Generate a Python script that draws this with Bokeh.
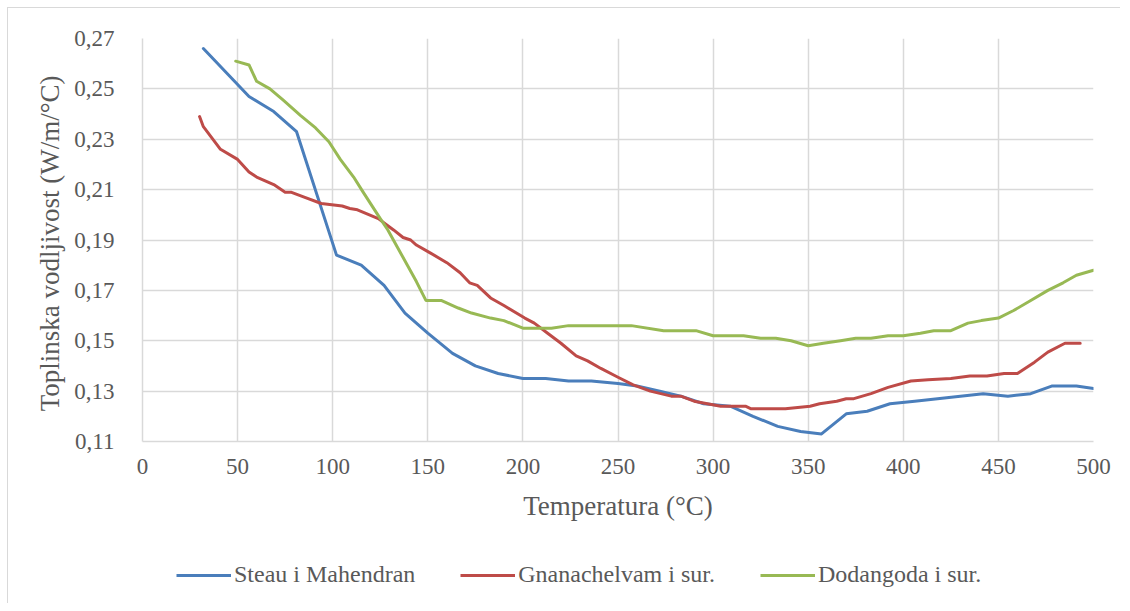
from bokeh.plotting import figure
from bokeh.layouts import column
from bokeh.models import FixedTicker, CustomJSTickFormatter, Legend, LegendItem, Range1d, InlineStyleSheet
from bokeh.embed import file_html
from bokeh.resources import INLINE

blue_x = [32, 56, 69, 81, 102, 115, 127, 138, 150, 163, 175, 187, 200, 212, 224, 236, 250, 260, 272, 283, 295, 309, 321, 334, 346, 357, 370, 381, 393, 406, 418, 430, 442, 455, 467, 478, 491, 500]
blue_y = [0.266, 0.247, 0.241, 0.233, 0.184, 0.180, 0.172, 0.161, 0.153, 0.145, 0.140, 0.137, 0.135, 0.135, 0.134, 0.134, 0.133, 0.132, 0.130, 0.128, 0.125, 0.124, 0.120, 0.116, 0.114, 0.113, 0.121, 0.122, 0.125, 0.126, 0.127, 0.128, 0.129, 0.128, 0.129, 0.132, 0.132, 0.131]

red_x = [30, 32, 41, 50, 56, 60, 69, 75, 78, 85, 94, 105, 109, 113, 124, 132, 137, 141, 144, 151, 160, 167, 172, 176, 183, 190, 201, 206, 213, 220, 228, 234, 241, 250, 258, 267, 278, 283, 290, 297, 304, 317, 320, 338, 351, 356, 365, 370, 374, 383, 392, 404, 413, 425, 435, 444, 453, 460, 469, 476, 485, 493]
red_y = [0.239, 0.235, 0.226, 0.222, 0.217, 0.215, 0.212, 0.209, 0.209, 0.207, 0.2045, 0.2035, 0.2025, 0.202, 0.1985, 0.194, 0.191, 0.190, 0.188, 0.185, 0.181, 0.177, 0.173, 0.172, 0.167, 0.164, 0.159, 0.157, 0.153, 0.149, 0.144, 0.142, 0.139, 0.1355, 0.1325, 0.130, 0.128, 0.128, 0.126, 0.125, 0.124, 0.124, 0.123, 0.123, 0.124, 0.125, 0.126, 0.127, 0.127, 0.129, 0.1315, 0.134, 0.1345, 0.135, 0.136, 0.136, 0.137, 0.137, 0.1415, 0.1455, 0.149, 0.149]

green_x = [49, 56, 60, 67, 74, 83, 91, 98, 104, 111, 116, 125, 129, 144, 149, 157, 166, 173, 183, 190, 200, 208, 215, 224, 257, 274, 291, 300, 316, 325, 333, 341, 350, 358, 367, 375, 383, 392, 400, 409, 416, 425, 434, 441, 450, 458, 467, 476, 484, 491, 500]
green_y = [0.261, 0.2595, 0.253, 0.250, 0.2455, 0.2395, 0.2345, 0.229, 0.222, 0.215, 0.209, 0.1985, 0.194, 0.1735, 0.166, 0.166, 0.163, 0.161, 0.159, 0.158, 0.155, 0.155, 0.155, 0.156, 0.156, 0.154, 0.154, 0.152, 0.152, 0.151, 0.151, 0.150, 0.148, 0.149, 0.150, 0.151, 0.151, 0.152, 0.152, 0.153, 0.154, 0.154, 0.157, 0.158, 0.159, 0.162, 0.166, 0.170, 0.173, 0.176, 0.178]

series_names = ["Steau i Mahendran", "Gnanachelvam i sur.", "Dodangoda i sur."]
series_colors = ["#4A7EBB", "#BE4B48", "#98B954"]

x_ticks = [0, 50, 100, 150, 200, 250, 300, 350, 400, 450, 500]
y_ticks = [0.11, 0.13, 0.15, 0.17, 0.19, 0.21, 0.23, 0.25, 0.27]

FONT = "Liberation Serif"
TXT = "#595959"
GRID = "#D9D9D9"

p = figure(width=1112, height=523, output_backend="svg", toolbar_location=None,
           x_range=Range1d(0, 500), y_range=Range1d(0.11, 0.27),
           min_border_left=134, min_border_right=27, min_border_top=30, min_border_bottom=90)
p.outline_line_color = None
p.background_fill_color = "white"
p.border_fill_color = "white"

p.xaxis.ticker = FixedTicker(ticks=x_ticks)
p.yaxis.ticker = FixedTicker(ticks=y_ticks)
p.yaxis.formatter = CustomJSTickFormatter(code="return tick.toFixed(2).replace('.', ',');")

for ax in (p.xaxis[0], p.yaxis[0]):
    ax.axis_line_color = GRID
    ax.axis_line_width = 1.5
    ax.major_tick_line_color = None
    ax.minor_tick_line_color = None
    ax.major_label_text_font = FONT
    ax.major_label_text_font_size = "23px"
    ax.major_label_text_color = TXT
    ax.axis_label_text_font = FONT
    ax.axis_label_text_font_size = "27px"
    ax.axis_label_text_font_style = "normal"
    ax.axis_label_text_color = TXT

p.yaxis.major_label_standoff = 22
p.yaxis.axis_label = "Toplinska vodljivost  (W/m/°C)"
p.yaxis.axis_label_standoff = 6
p.xaxis.major_label_standoff = 11
p.xaxis.axis_label = "Temperatura (°C)"
p.xaxis.axis_label_standoff = 14

p.xgrid.grid_line_color = GRID
p.xgrid.grid_line_width = 1.5
p.ygrid.grid_line_color = GRID
p.ygrid.grid_line_width = 1.5

data = [(blue_x, blue_y), (red_x, red_y), (green_x, green_y)]
for (xs, ys), col in zip(data, series_colors):
    p.line(xs, ys, line_color=col, line_width=3, line_join="round", line_cap="round")

# legend strip below the chart (its frame is aligned with the chart's frame)
p2 = figure(width=1112, height=72, output_backend="svg", toolbar_location=None,
            x_range=Range1d(0, 500), y_range=Range1d(10, 11),
            min_border_left=0, min_border_right=0, min_border_top=0, min_border_bottom=0)
p2.axis.visible = False
p2.grid.visible = False
p2.outline_line_color = None
p2.border_fill_color = "white"
p2.background_fill_color = "white"

items = []
for (xs, ys), name, col in zip(data, series_names, series_colors):
    r = p2.line(xs, ys, line_color=col, line_width=3)
    items.append(LegendItem(label=name, renderers=[r]))

legend = Legend(items=items, orientation="horizontal", location=(34, 15))
legend.label_text_font = FONT
legend.label_text_font_size = "24px"
legend.label_text_color = TXT
legend.glyph_width = 55
legend.glyph_height = 26
legend.label_standoff = 3
legend.spacing = 45
legend.padding = 0
legend.margin = 0
legend.border_line_color = None
legend.background_fill_alpha = 0
p2.add_layout(legend, "center")

layout = column(p, p2, spacing=0)
layout.stylesheets = [InlineStyleSheet(css=":host { border-left: 1px solid #D9D9D9; border-top: 1px solid #D9D9D9; margin-left: 7px; margin-top: 7px; }")]

open("out.html", "w").write(file_html(layout, INLINE))
